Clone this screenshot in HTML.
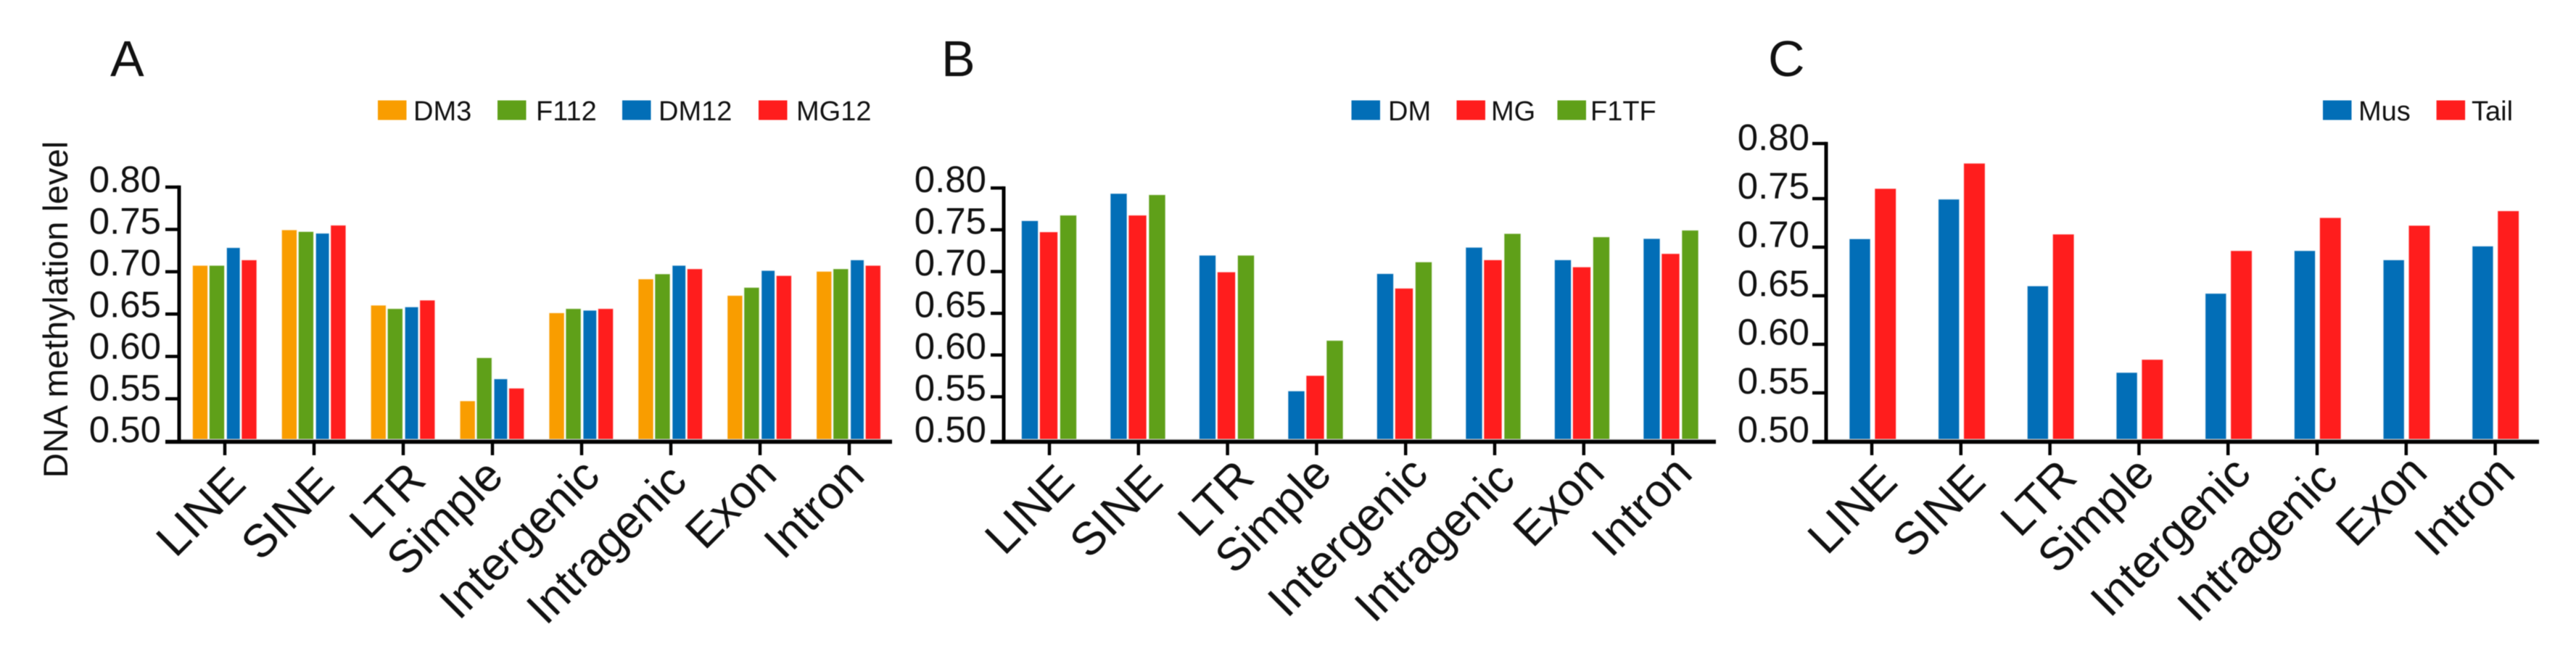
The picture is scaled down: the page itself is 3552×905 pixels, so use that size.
<!DOCTYPE html>
<html lang="en">
<head>
<meta charset="utf-8">
<title>DNA methylation level by genomic feature</title>
<style>
html,body{margin:0;padding:0;background:#fff;}
body{width:3552px;height:905px;overflow:hidden;}
svg{display:block;filter:blur(0.6px);}
text{font-family:"Liberation Sans",Arial,sans-serif;fill:#111;}
</style>
</head>
<body>
<svg id="figure" width="3552" height="905" viewBox="0 0 3552 905" xmlns="http://www.w3.org/2000/svg">
<rect x="0" y="0" width="3552" height="905" fill="#ffffff"/>
<text transform="translate(93,427) rotate(-90)" text-anchor="middle" font-size="47.5">DNA methylation level</text>
</svg>
<script>
const categories = ['LINE', 'SINE', 'LTR', 'Simple', 'Intergenic', 'Intragenic', 'Exon', 'Intron'];
const tickValues = [0.50, 0.55, 0.60, 0.65, 0.70, 0.75, 0.80];
const tickLabels = ['0.50', '0.55', '0.60', '0.65', '0.70', '0.75', '0.80'];

const panelADM3 = [0.707, 0.749, 0.660, 0.547, 0.651, 0.691, 0.6715, 0.700];
const panelAF112 = [0.707, 0.747, 0.656, 0.598, 0.656, 0.697, 0.681, 0.703];
const panelADM12 = [0.728, 0.745, 0.658, 0.573, 0.654, 0.707, 0.701, 0.7135];
const panelAMG12 = [0.7135, 0.7545, 0.666, 0.562, 0.656, 0.703, 0.695, 0.707];

const panelBDM = [0.7604, 0.793, 0.719, 0.5565, 0.697, 0.7285, 0.7135, 0.739];
const panelBMG = [0.747, 0.767, 0.699, 0.575, 0.6795, 0.7135, 0.705, 0.721];
const panelBF1TF = [0.767, 0.7915, 0.719, 0.617, 0.711, 0.745, 0.741, 0.749];

const panelCMus = [0.7082, 0.749, 0.6597, 0.5706, 0.652, 0.696, 0.6865, 0.7007];
const panelCTail = [0.760, 0.786, 0.713, 0.584, 0.696, 0.730, 0.722, 0.737];

const ORANGE = '#f99d00', GREEN = '#5fa019', BLUE = '#026eb7', RED = '#ff1d1d';

/* Hand-placed rotated label anchors in the source figure, per category. */
const layoutLabelDx = [32, 31, 34, 18, 28, 25, 26, 24];
const layoutLabelY = [671, 671, 665, 660, 660, 667, 658, 659];

const panels = [
  {
    id: 'a', letter: 'A', letterX: 152, axisX: 247, axisRight: 1230, tickLeft: 228,
    y0: 608.5, k: 1168, labelY0: 610, labelK: 1150, labelRight: 222, topNudge: 0,
    x0: 266, step: 122.9, tickX0: 310, tickStep: 123, xLabelDx: 0, xLabelDy: 0,
    series: [
      {name: 'DM3', values: panelADM3, color: ORANGE, dx: 0, w: 20, swatch: 521, text: 570},
      {name: 'F112', values: panelAF112, color: GREEN, dx: 23, w: 20, swatch: 686, text: 739},
      {name: 'DM12', values: panelADM12, color: BLUE, dx: 47, w: 17.5, swatch: 858, text: 908},
      {name: 'MG12', values: panelAMG12, color: RED, dx: 67.5, w: 20, swatch: 1046, text: 1098}
    ]
  },
  {
    id: 'b', letter: 'B', letterX: 1298, axisX: 1384, axisRight: 2366, tickLeft: 1366,
    y0: 605, k: 1152, labelY0: 610, labelK: 1150, labelRight: 1360, topNudge: 0,
    x0: 1409, step: 122.5, tickX0: 1447, tickStep: 122.8, xLabelDx: 5.7, xLabelDy: -3,
    series: [
      {name: 'DM', values: panelBDM, color: BLUE, dx: 0, w: 22, swatch: 1863.5, text: 1914},
      {name: 'MG', values: panelBMG, color: RED, dx: 25, w: 24, swatch: 2008.5, text: 2056},
      {name: 'F1TF', values: panelBF1TF, color: GREEN, dx: 53, w: 22, swatch: 2147.5, text: 2193}
    ]
  },
  {
    id: 'c', letter: 'C', letterX: 2438, axisX: 2518, axisRight: 3501, tickLeft: 2499,
    y0: 609, k: 1340, labelY0: 610, labelK: 1344, labelRight: 2495, topNudge: -9,
    x0: 2550.5, step: 122.7, tickX0: 2581, tickStep: 122.8, xLabelDx: 6.2, xLabelDy: -3.5,
    series: [
      {name: 'Mus', values: panelCMus, color: BLUE, dx: 0, w: 28, swatch: 3203, text: 3252},
      {name: 'Tail', values: panelCTail, color: RED, dx: 35, w: 28.5, swatch: 3359.6, text: 3408}
    ]
  }
];

const SVG_NS = 'http://www.w3.org/2000/svg';
const figure = document.getElementById('figure');
const BAR_BOTTOM = 607;
const AXIS_Y = 609.5;

function node(parent, tag, props) {
  const el = document.createElementNS(SVG_NS, tag);
  for (const key in props) el.setAttribute(key, props[key]);
  parent.appendChild(el);
  return el;
}
function yScale(panel, value) {
  return panel.y0 - (value - 0.5) * panel.k;
}
function labelScale(panel, value) {
  return panel.labelY0 - (value - 0.5) * panel.labelK;
}
function barX(panel, index, series) {
  return panel.x0 + index * panel.step + series.dx;
}
function tickX(panel, index) {
  return panel.tickX0 + index * panel.tickStep;
}

panels.forEach(function (panel) {
  const group = node(figure, 'g', {});
  
  

  const letter = node(group, 'text', {x: panel.letterX, y: 105, 'font-size': 70});
  letter.textContent = panel.letter;
  
  

  panel.series.forEach(function (series) {
    const key = series.name.toLowerCase();
    const swatch = node(group, 'rect', {x: series.swatch, y: 138.5, width: 39.5, height: 27, fill: series.color});
    
    
    const entry = node(group, 'text', {x: series.text, y: 166, 'font-size': 38});
    entry.textContent = series.name;
    
    

    series.values.forEach(function (value, index) {
      const top = yScale(panel, value);
      const bar = node(group, 'rect', {
        x: barX(panel, index, series), y: top, width: series.w,
        height: Math.max(0, BAR_BOTTOM - top), fill: series.color,
        stroke: series.color, 'stroke-opacity': 0.3, 'stroke-width': 1.2
      });
      
      
    });
  });

  const shelf = node(group, 'line', {x1: panel.axisX, x2: panel.axisRight, y1: 606.5, y2: 606.5, stroke: '#d9d9d9', 'stroke-width': 2});
  
  

  tickValues.forEach(function (value, index) {
    const isTop = index === tickValues.length - 1;
    const isBottom = index === 0;
    const y = isBottom ? AXIS_Y : yScale(panel, value) + (isTop ? panel.topNudge : 0);
    if (!isBottom) {
      const tick = node(group, 'line', {x1: panel.tickLeft, x2: panel.axisX, y1: y, y2: y, stroke: '#000', 'stroke-width': 4.5});
      
      
    }
    const label = node(group, 'text', {x: panel.labelRight, y: labelScale(panel, value), 'font-size': 51, 'text-anchor': 'end'});
    label.textContent = tickLabels[index];
    
    
  });

  const topY = yScale(panel, tickValues[tickValues.length - 1]) + panel.topNudge - 2.25;
  const yAxis = node(group, 'line', {x1: panel.axisX, x2: panel.axisX, y1: topY, y2: AXIS_Y, stroke: '#000', 'stroke-width': 5});
  
  

  const xAxis = node(group, 'line', {x1: panel.tickLeft, x2: panel.axisRight, y1: AXIS_Y, y2: AXIS_Y, stroke: '#000', 'stroke-width': 5.5});
  
  

  categories.forEach(function (category, index) {
    const x = tickX(panel, index);
    const tick = node(group, 'line', {x1: x, x2: x, y1: AXIS_Y, y2: 628, stroke: '#000', 'stroke-width': 4.5});
    
    
    const labelX = x + layoutLabelDx[index] + panel.xLabelDx;
    const labelY = layoutLabelY[index] + panel.xLabelDy;
    const label = node(group, 'text', {
      transform: 'translate(' + labelX + ',' + labelY + ') rotate(-45)',
      'text-anchor': 'end', 'font-size': 63.5
    });
    label.textContent = category;
    
    
  });
});
</script>
</body>
</html>
